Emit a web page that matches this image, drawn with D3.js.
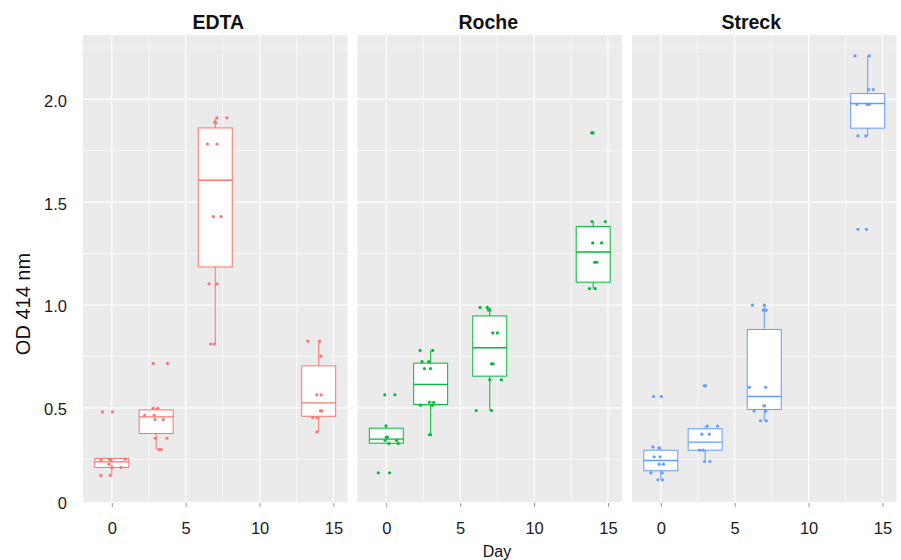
<!DOCTYPE html>
<html>
<head>
<meta charset="utf-8">
<script src="https://cdn.jsdelivr.net/npm/d3@7"></script>
<style>
  body { margin: 0; background: #fff; }
  text { font-family: "Liberation Sans", Arial, sans-serif; }
</style>
</head>
<body>
<script>
// samples per tube type, OD at 414 nm over days of storage
const groups = ["EDTA", "Roche", "Streck"];
const colors = ["#F8766D", "#00BA38", "#619CFF"];
const days = [0, 3, 7, 14];
const xTicks = [0, 5, 10, 15];
const xMinor = [2.5, 7.5, 12.5];
const yTicks = [0.5, 1.0, 1.5, 2.0];
const yMinor = [0.25, 0.75, 1.25, 1.75, 2.25];

// box stats, one row per day: [lower, q1, median, q3, upper]
const edtaBoxes = [
  [0.171, 0.210, 0.237, 0.254, 0.254],
  [0.297, 0.375, 0.456, 0.490, 0.498],
  [0.810, 1.185, 1.607, 1.861, 1.910],
  [0.383, 0.459, 0.524, 0.704, 0.824]
];
const rocheBoxes = [
  [0.327, 0.328, 0.348, 0.401, 0.412],
  [0.369, 0.516, 0.614, 0.717, 0.779],
  [0.487, 0.654, 0.792, 0.947, 0.988],
  [1.080, 1.111, 1.258, 1.382, 1.406]
];
const streckBoxes = [
  [0.150, 0.194, 0.244, 0.294, 0.310],
  [0.239, 0.294, 0.333, 0.398, 0.411],
  [0.437, 0.492, 0.555, 0.881, 0.999],
  [1.822, 1.860, 1.980, 2.028, 2.211]
];

// jittered points: [day position, OD]
const edtaPoints = [
  [-0.63, 0.48], [0.04, 0.48], [-0.72, 0.245], [-0.16, 0.25], [-0.05, 0.245], [0.9, 0.25],
  [-0.18, 0.226], [0, 0.21], [0.63, 0.21], [-0.74, 0.171], [-0.11, 0.171],
  [2.8, 0.716], [3.77, 0.716], [2.8, 0.498], [3.12, 0.498], [2.22, 0.463], [2.87, 0.463],
  [2.92, 0.443], [3.48, 0.443], [2.94, 0.352], [3.73, 0.352], [3.19, 0.297], [3.34, 0.297],
  [7.12, 1.91], [7.79, 1.91], [6.96, 1.89], [7.05, 1.885], [6.47, 1.783], [7.12, 1.783],
  [6.87, 1.43], [7.39, 1.43], [6.58, 1.103], [7.12, 1.103], [6.69, 0.81], [6.94, 0.81],
  [13.27, 0.824], [14.06, 0.824], [14.15, 0.751], [13.88, 0.563], [14.17, 0.563],
  [14.12, 0.485], [14.22, 0.485], [13.59, 0.453], [13.88, 0.453], [13.88, 0.383]
];
const rochePoints = [
  [-0.11, 0.563], [0.58, 0.563], [-0.02, 0.412], [0, 0.357], [0.07, 0.357], [-0.09, 0.341],
  [0.69, 0.341], [0.18, 0.327], [0.81, 0.327], [-0.54, 0.184], [0.22, 0.184],
  [2.29, 0.779], [3.14, 0.779], [2.42, 0.725], [2.87, 0.725], [2.58, 0.691], [2.99, 0.691],
  [2.31, 0.513], [3.12, 0.513], [2.92, 0.527], [3.21, 0.527], [2.92, 0.369], [2.99, 0.369],
  [6.35, 0.988], [6.83, 0.988], [6.91, 0.976], [7.0, 0.976], [7.21, 0.864], [7.52, 0.864],
  [7.12, 0.714], [7.23, 0.714], [7.0, 0.636], [7.79, 0.636], [6.08, 0.487], [7.12, 0.487],
  [13.9, 1.837], [13.99, 1.837], [13.92, 1.406], [14.82, 1.406], [13.97, 1.302], [14.57, 1.302],
  [14.1, 1.208], [14.24, 1.208], [13.75, 1.08], [14.13, 1.08]
];
const streckPoints = [
  [-0.49, 0.555], [0.04, 0.555], [-0.54, 0.31], [-0.13, 0.305], [-0.45, 0.262], [-0.05, 0.262],
  [-0.11, 0.226], [0.18, 0.226], [-0.67, 0.184], [0.09, 0.184], [-0.2, 0.15], [0.11, 0.15],
  [2.94, 0.607], [3.03, 0.607], [3.14, 0.411], [3.84, 0.411], [2.78, 0.372], [3.28, 0.372],
  [2.63, 0.294], [2.87, 0.294], [2.96, 0.239], [3.32, 0.239],
  [6.2, 0.999], [7.01, 0.999], [6.94, 0.975], [7.12, 0.975], [6.0, 0.6], [7.1, 0.6],
  [6.98, 0.51], [7.03, 0.51], [6.31, 0.484], [7.1, 0.484], [6.74, 0.437], [7.14, 0.437],
  [13.14, 2.211], [14.11, 2.211], [14.06, 2.048], [14.38, 2.048], [13.27, 1.976], [13.97, 1.976],
  [14.11, 1.976], [13.34, 1.822], [13.88, 1.822], [13.34, 1.368], [13.92, 1.368]
];

const allBoxes = [edtaBoxes, rocheBoxes, streckBoxes];
const allPoints = [edtaPoints, rochePoints, streckPoints];

const width = 901, height = 560;
const plotLeft = 83, plotTop = 35, plotBottom = 502;
const panelW = 264.5, gap = 10;
const boxHalf = 1.15; // half box width in days
const titleShift = [3, -1.5, -13]; // facet titles are not quite centred in the original

const svg = d3.select("body").append("svg")
    .attr("width", width).attr("height", height);

const x = d3.scaleLinear().domain([-1.95, 15.95]).range([0, panelW]);
const y = d3.scaleLinear().domain([0.042, 2.313]).range([plotBottom, plotTop]);

// y axis labels (the "0" sits at the floor of the panel)
svg.selectAll("text.ylab")
    .data([y.domain()[0]].concat(yTicks))
    .enter().append("text")
      .attr("class", "ylab")
      .attr("x", 67)
      .attr("y", function(d) { return y(d) + 3; })
      .attr("text-anchor", "end")
      .attr("dominant-baseline", "middle")
      .attr("font-size", 16.5)
      .attr("fill", "#1a1a1a")
      .text(function(d, i) { return i === 0 ? "0" : d3.format(".1f")(d); });

svg.append("text")
    .attr("transform", "translate(29.5,304) rotate(-90)")
    .attr("text-anchor", "middle")
    .attr("font-size", 20)
    .attr("fill", "#111")
    .text("OD 414 nm");

svg.append("text")
    .attr("x", 497).attr("y", 557)
    .attr("text-anchor", "middle")
    .attr("font-size", 16)
    .attr("fill", "#111")
    .text("Day");

groups.forEach(function(name, gi) {
  const px = plotLeft + gi * (panelW + gap);
  const col = colors[gi];
  const g = svg.append("g").attr("transform", "translate(" + px + ",0)");

  // panel background
  g.append("rect")
      .attr("x", 0).attr("y", plotTop)
      .attr("width", panelW).attr("height", plotBottom - plotTop)
      .attr("fill", "#EBEBEB");

  // grid
  g.selectAll("line.hminor").data(yMinor).enter().append("line")
      .attr("x1", 0).attr("x2", panelW)
      .attr("y1", function(d) { return y(d); }).attr("y2", function(d) { return y(d); })
      .attr("stroke", "#fff").attr("stroke-width", 0.6);
  g.selectAll("line.vminor").data(xMinor).enter().append("line")
      .attr("y1", plotTop).attr("y2", plotBottom)
      .attr("x1", function(d) { return x(d); }).attr("x2", function(d) { return x(d); })
      .attr("stroke", "#fff").attr("stroke-width", 0.6);
  g.selectAll("line.hmajor").data(yTicks).enter().append("line")
      .attr("x1", 0).attr("x2", panelW)
      .attr("y1", function(d) { return y(d); }).attr("y2", function(d) { return y(d); })
      .attr("stroke", "#fff").attr("stroke-width", 1.2);
  g.selectAll("line.vmajor").data(xTicks).enter().append("line")
      .attr("y1", plotTop).attr("y2", plotBottom)
      .attr("x1", function(d) { return x(d); }).attr("x2", function(d) { return x(d); })
      .attr("stroke", "#fff").attr("stroke-width", 1.2);

  // x axis ticks and labels
  const xAxis = d3.axisBottom(x).tickValues(xTicks).tickSize(4).tickPadding(15);
  const ax = g.append("g").attr("transform", "translate(0," + (plotBottom + 1) + ")").call(xAxis);
  ax.select(".domain").remove();
  ax.selectAll(".tick line").attr("stroke", "#999");
  ax.selectAll(".tick text")
      .attr("font-size", 16.5)
      .attr("fill", "#1a1a1a")
      .attr("font-family", "Liberation Sans, Arial, sans-serif");

  // facet title
  g.append("text")
      .attr("x", panelW / 2 + titleShift[gi]).attr("y", 28.5)
      .attr("text-anchor", "middle")
      .attr("font-size", 19.5)
      .attr("font-weight", "bold")
      .attr("fill", "#111")
      .text(name);

  const boxes = allBoxes[gi];

  // whiskers
  g.selectAll("line.whisk").data(boxes).enter().append("line")
      .attr("x1", function(d, i) { return x(days[i]); })
      .attr("x2", function(d, i) { return x(days[i]); })
      .attr("y1", function(d) { return y(d[0]); })
      .attr("y2", function(d) { return y(d[4]); })
      .attr("stroke", col).attr("stroke-width", 1);

  // boxes
  g.selectAll("rect.box").data(boxes).enter().append("rect")
      .attr("x", function(d, i) { return x(days[i] - boxHalf); })
      .attr("width", function(d, i) { return x(days[i] + boxHalf) - x(days[i] - boxHalf); })
      .attr("y", function(d) { return y(d[3]); })
      .attr("height", function(d) { return y(d[1]) - y(d[3]); })
      .attr("fill", "#fff")
      .attr("stroke", col).attr("stroke-width", 1);

  // medians
  g.selectAll("line.med").data(boxes).enter().append("line")
      .attr("x1", function(d, i) { return x(days[i] - boxHalf); })
      .attr("x2", function(d, i) { return x(days[i] + boxHalf); })
      .attr("y1", function(d) { return y(d[2]); })
      .attr("y2", function(d) { return y(d[2]); })
      .attr("stroke", col).attr("stroke-width", 1.4);

  // jittered points
  g.selectAll("circle").data(allPoints[gi]).enter().append("circle")
      .attr("cx", function(d) { return x(d[0]); })
      .attr("cy", function(d) { return y(d[1]); })
      .attr("r", 1.6)
      .attr("fill", col);
});
</script>
</body>
</html>
